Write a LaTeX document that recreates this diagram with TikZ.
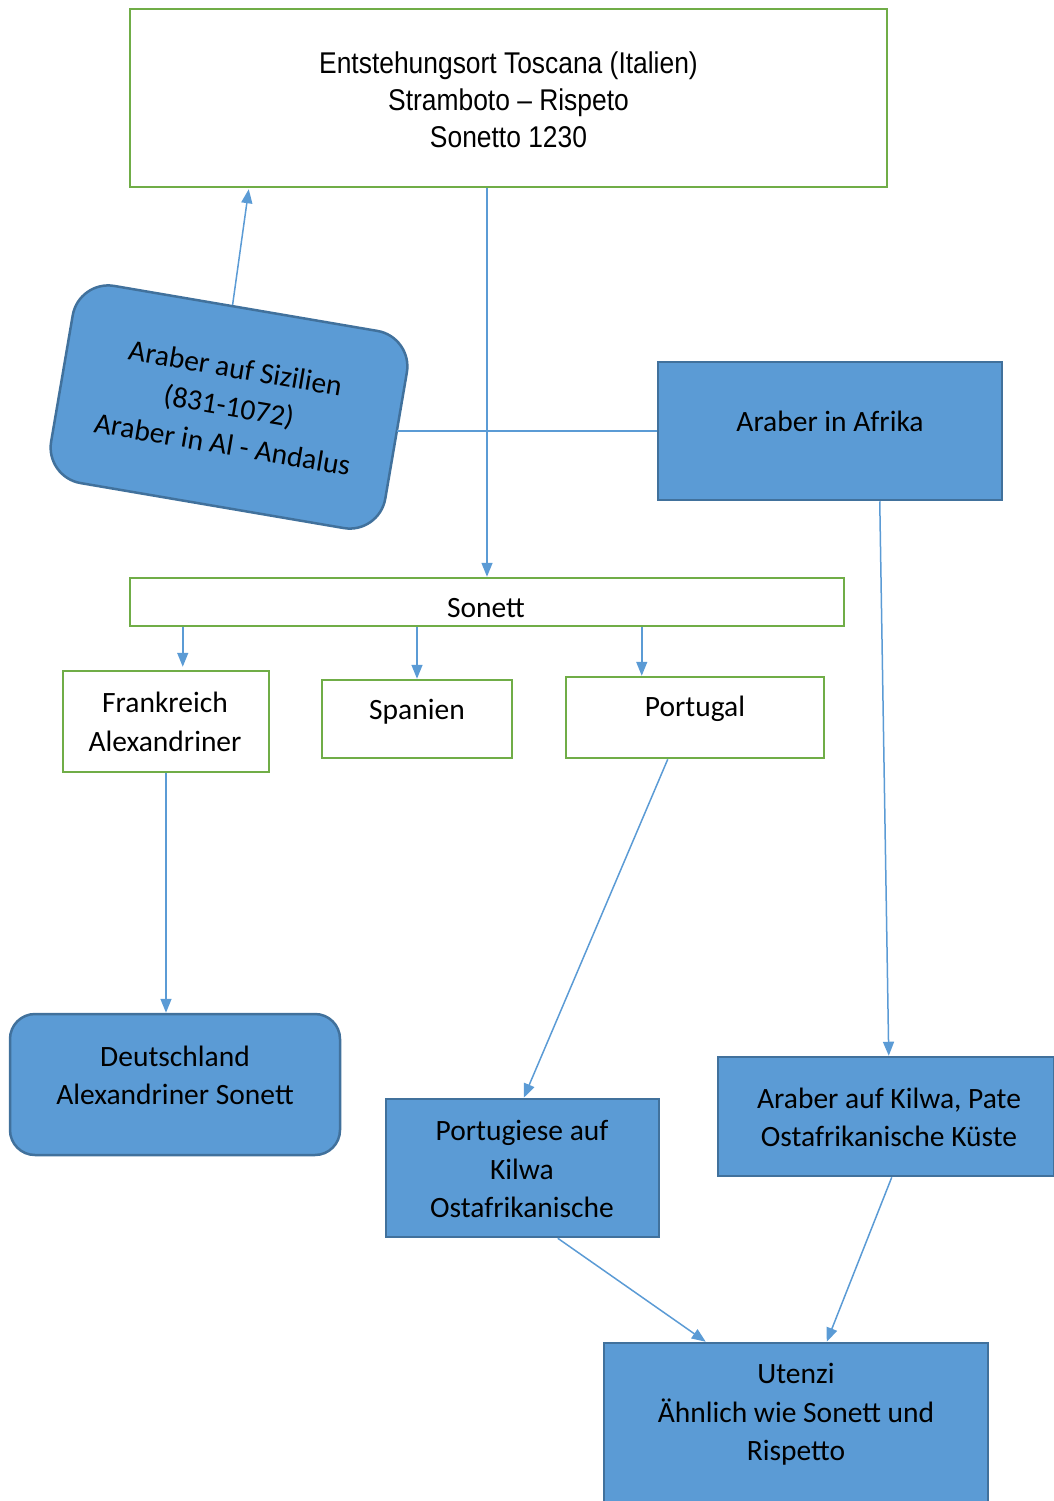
\documentclass[tikz,border=0pt]{standalone}
\usepackage{fontspec}
\setmainfont{Carlito}
\newfontfamily\narrowfont{Liberation Sans}[FakeStretch=0.88]
\usetikzlibrary{arrows.meta,calc}
\definecolor{wgreen}{HTML}{70AD47}
\definecolor{wblue}{HTML}{5B9BD5}
\definecolor{wdark}{HTML}{41719C}
\begin{document}
\begin{tikzpicture}[x=1pt,y=-1pt,
  gbox/.style={draw=wgreen,line width=2.5pt,fill=white,inner sep=0pt},
  bbox/.style={draw=wdark,line width=2.5pt,fill=wblue,inner sep=0pt},
  txt/.style={font=\fontsize{29.5}{38.5}\selectfont,align=center,inner sep=0pt},
  ntxt/.style={font=\narrowfont\fontsize{30}{37}\selectfont,align=center,inner sep=0pt},
  conn/.style={draw=wblue,line width=1.5pt,-{Triangle[width=11pt,length=14pt]}},
  plain/.style={draw=wblue,line width=1.5pt}]
\useasboundingbox (0,0) rectangle (1054,1501);
% boxes
\node[gbox,minimum width=757pt,minimum height=178pt] (top) at (508.5,98) {};
\node[bbox,minimum width=339pt,minimum height=200pt,rounded corners=36pt,rotate=-9.7] (sic) at (229,407) {};
\node[bbox,minimum width=344pt,minimum height=138pt] (afr) at (830,431) {};
\node[gbox,minimum width=714pt,minimum height=48pt] (son) at (487,602) {};
\node[gbox,minimum width=206pt,minimum height=101pt] (fr) at (166,721.5) {};
\node[gbox,minimum width=190pt,minimum height=78pt] (sp) at (417,719) {};
\node[gbox,minimum width=258pt,minimum height=81pt] (pt) at (695,717.5) {};
\node[bbox,minimum width=330pt,minimum height=141pt,rounded corners=25pt] (de) at (175,1084.5) {};
\node[bbox,minimum width=273pt,minimum height=138pt] (pg) at (522.5,1168) {};
\node[bbox,minimum width=336pt,minimum height=119pt] (kw) at (886,1116.5) {};
\node[bbox,minimum width=384pt,minimum height=180pt] (ut) at (796,1433) {};
% texts
\node[ntxt] (ttop) at (508.5,99.5) {Entstehungsort Toscana (Italien)\\Stramboto – Rispeto\\Sonetto 1230};
\node[txt,rotate=-9.7] (tsic) at (229,406) {Araber auf Sizilien\\(831-1072)\\Araber in Al - Andalus};
\node[txt] (tafr) at (830,421.5) {Araber in Afrika};
\node[txt] (tson) at (486,608.5) {Sonett};
\node[txt] (tfr) at (165,722) {Frankreich\\Alexandriner};
\node[txt] (tsp) at (417,711.5) {Spanien};
\node[txt] (tpt) at (695,708.5) {Portugal};
\node[txt] (tde) at (175,1075.5) {Deutschland\\Alexandriner Sonett};
\node[txt] (tpg) at (522,1169) {Portugiese auf\\Kilwa\\Ostafrikanische};
\node[txt] (tkw) at (889,1117.5) {Araber auf Kilwa, Pate\\Ostafrikanische Küste};
\node[txt] (tut) at (796,1414.5) {Utenzi\\Ähnlich wie Sonett und\\Rispetto};
% connectors
\draw[conn] ($(sic.north west)!0.46!(sic.north east)$) -- ($(top.south west)+(120,1)$);
\draw[conn] (son.north |- top.south) -- (son.north);
\draw[plain] (afr.west) -- (afr.west -| sic.east);
\draw[conn] ($(son.south west)+(54,0)$) coordinate (a1) -- ($(a1 |- fr.north)+(0,-3)$);
\draw[conn] (sp.north |- son.south) -- (sp.north);
\draw[conn] ($(son.south west)+(513,0)$) coordinate (a2) -- (a2 |- pt.north);
\draw[conn] (fr.south) -- (fr.south |- de.north);
\draw[conn] ($(pt.south west)+(103,0)$) -- ($(pg.north west)+(139,0)$);
\draw[conn] ($(afr.south west)+(223,0)$) -- ($(kw.north west)+(172,0)$);
\draw[conn] ($(kw.south west)+(175,0)$) -- ($(ut.north west)+(224,0)$);
\draw[conn] ($(pg.south west)+(173,0)$) -- ($(ut.north west)+(103,0)$);
\end{tikzpicture}
\end{document}
